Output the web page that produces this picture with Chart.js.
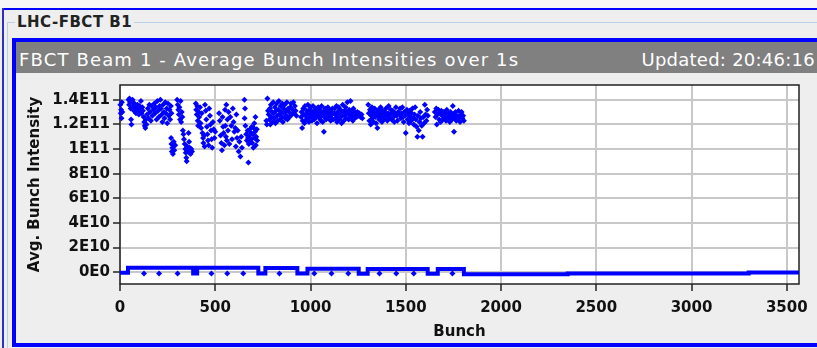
<!DOCTYPE html>
<html>
<head>
<meta charset="utf-8">
<script src="https://cdn.jsdelivr.net/npm/chart.js@4.4.0/dist/chart.umd.min.js"></script>
<style>
html, body { margin: 0; overflow: hidden; background: #eeeeee; }
body { font-family: "DejaVu Sans", sans-serif; }
#page { position: relative; width: 817px; height: 348px; background: #eeeeee; overflow: hidden; }
#topStrip { position: absolute; left: 0; top: 0; right: 0; height: 8px; background: #f7f7f7; }
#outerTop { position: absolute; left: 3px; top: 8px; right: 0; height: 2px; background: #0000ff; }
#outerLeft { position: absolute; left: 2px; top: 8px; width: 2px; bottom: 0; background: #3030c0; }
#group { position: absolute; left: 7px; top: 22px; right: -60px; bottom: -60px; border-left: 1px solid #b8cfe5; border-top: 1px solid #b8cfe5; }
#groupTitle { position: absolute; left: 15px; top: 15px; padding: 0 2px; background: #eeeeee; font-weight: bold; font-size: 15px; line-height: 15px; letter-spacing: 0.5px; color: #222; }
#panel { position: absolute; left: 12px; top: 38px; right: -60px; height: 309px; border-left: 4px solid #0000ff; border-top: 4px solid #0000ff; border-bottom: 4px solid #0000ff; box-sizing: border-box; background: #eeeeee; }
#header { position: absolute; left: 0; top: 0; width: 801px; height: 31px; background: #808080; color: #fff; font-size: 18px; line-height: 31px; }
#hLeft { position: absolute; left: 3px; top: 2px; letter-spacing: 1.15px; white-space: nowrap; }
#hRight { position: absolute; right: 2px; top: 2px; letter-spacing: 0.25px; white-space: nowrap; }
#chart { position: absolute; left: 0; top: 31px; }
#rightGap { position: absolute; left: 790px; top: 10px; width: 27px; height: 12px; background: #eeeeee; }
#rightGap2 { position: absolute; left: 790px; top: 23px; width: 27px; height: 15px; background: #eeeeee; }
</style>
</head>
<body>
<div id="page">
<div id="topStrip"></div>
<div id="outerTop"></div>
<div id="outerLeft"></div>
<div id="group"></div>
<div id="groupTitle">LHC-FBCT B1</div>
<div id="rightGap"></div>
<div id="rightGap2"></div>
<div id="panel">
  <div id="header"><span id="hLeft">FBCT Beam 1 - Average Bunch Intensities over 1s</span><span id="hRight">Updated: 20:46:16</span></div>
  <canvas id="chart" width="801" height="270"></canvas>
</div>
</div>
<script>
// axis ticks
const xTicks = [0, 500, 1000, 1500, 2000, 2500, 3000, 3500];
const yTicks = [0, 2e10, 4e10, 6e10, 8e10, 1e11, 1.2e11, 1.4e11];
const yTickLabels = ['0E0', '2E10', '4E10', '6E10', '8E10', '1E11', '1.2E11', '1.4E11'];

// filled bunches: [bunch, intensity in 1E10]
const trainA = [[2,13.6],[4,12.9],[6,13.2],[8,12.5],[10,13.8],[12,13.0],[45,14.0],[48,13.6],[50,14.1],[53,13.8],[56,13.3],[58,12.4],[60,12.0],[62,13.9],[66,14.0],[70,13.5],[73,13.1],[76,13.7],[80,13.4],[84,12.9],[88,13.3],[92,13.6],[95,13.0],[99,12.8],[103,13.5],[106,13.2],[110,13.9],[113,12.9],[117,13.4],[120,13.1],[124,12.6],[127,12.2],[130,11.9],[133,11.7],[136,12.4],[139,12.0],[142,12.8],[146,13.3],[150,12.5],[154,13.6],[158,13.0],[162,12.3],[166,13.5],[170,12.7]];
const trainB = [[176,13.2],[180,13.7],[184,12.9],[188,13.4],[192,12.4],[196,13.9],[200,13.1],[204,12.6],[208,13.5],[212,14.0],[215,13.3],[219,12.8],[222,12.2],[226,13.6],[230,13.0],[234,12.5],[238,13.8],[241,12.9],[245,13.3],[248,12.1],[252,13.7],[256,12.7],[260,13.2],[263,12.4],[267,13.5],[270,12.9],[300,14.0],[303,13.6],[306,13.2],[309,12.8],[312,13.4],[315,12.4],[318,13.9],[321,12.2],[324,13.0],[327,12.6]];
const trainC = [[268,10.9],[270,10.4],[272,9.8],[275,10.1],[278,9.6],[282,10.6],[285,9.9],[290,10.3],[330,11.5],[333,11.2],[336,10.8],[340,10.4],[343,10.0],[345,9.7],[348,9.3],[350,9.0],[353,10.2],[356,9.8],[360,11.3],[363,10.6],[366,10.1],[370,9.6],[374,10.0],[378,9.8]];
const trainD = [[398,13.7],[400,13.2],[403,12.8],[405,13.5],[408,12.3],[410,11.9],[413,13.0],[416,12.6],[420,13.4],[423,12.1],[426,11.7],[429,12.9],[433,11.3],[436,10.9],[438,10.5],[441,11.1],[444,10.2],[446,13.6],[450,13.1],[453,12.4],[456,11.8],[459,11.2],[462,10.7],[465,10.3],[468,13.3],[472,12.7],[475,12.0],[478,11.5],[481,10.8],[484,10.1],[488,12.2],[492,11.6],[496,10.9],[500,11.4]];
const trainE = [[520,12.9],[524,12.3],[528,11.1],[532,10.5],[535,9.9],[538,12.6],[541,11.8],[544,11.3],[548,10.3],[551,13.2],[553,11.9],[556,11.0],[558,13.6],[561,10.7],[564,12.4],[567,11.5],[570,13.0],[574,10.4],[579,12.6],[584,11.9],[588,10.8],[592,13.3],[596,12.2],[600,11.4],[605,11.7],[608,10.2],[611,12.8],[614,10.9],[618,11.5],[623,9.8],[627,10.6],[632,9.4],[636,11.0],[640,10.1]];
const trainF = [[653,14.0],[656,13.3],[654,12.5],[658,11.9],[662,11.2],[666,10.7],[670,11.5],[672,10.9],[674,8.9],[676,10.4],[679,11.1],[682,11.6],[684,10.6],[687,11.3],[690,10.8],[692,11.8],[694,10.5],[697,11.2],[700,10.1],[702,11.7],[705,12.1],[707,10.9],[709,11.4],[711,12.6],[713,10.3],[715,11.0],[718,11.6],[720,10.7]];
const trainG = [[768,12.3],[771,12.0],[774,14.1],[777,13.1],[780,12.8],[784,12.4],[787,13.3],[789,12.0],[792,13.6],[795,12.6],[798,13.0],[801,12.2],[804,13.8],[807,12.9],[810,12.5],[813,13.4],[816,12.1],[819,13.1],[822,13.7],[825,12.7],[828,12.3],[831,13.2],[834,13.9],[837,12.8],[840,12.4],[843,13.5],[846,13.0],[849,12.6],[852,13.7],[855,12.2],[858,13.3],[861,12.9],[864,13.6],[867,12.5],[870,13.1],[873,12.7],[876,13.8],[879,12.4],[882,13.3],[886,13.0],[890,12.6],[894,13.4],[898,13.7],[902,12.8],[906,13.2],[910,13.8],[914,12.9],[918,13.5],[922,13.1],[926,12.7]];
const trainH = [[950,12.6],[953,13.0],[956,11.7],[959,12.3],[962,13.3],[965,12.8],[968,12.1],[971,13.5],[974,12.7],[977,12.4],[980,13.1],[983,12.9],[986,13.6],[989,12.5],[992,12.2],[995,13.2],[998,12.8],[1001,13.4],[1004,12.6],[1007,12.3],[1010,13.0],[1013,13.5],[1016,12.7],[1019,12.4],[1022,13.1],[1025,12.9],[1028,13.3],[1031,12.6],[1034,12.1],[1037,13.0],[1040,13.4],[1043,12.8],[1046,12.5],[1049,13.2],[1052,12.9],[1055,12.3],[1058,13.5],[1061,12.7],[1064,12.2],[1067,13.0],[1070,11.4],[1073,12.6],[1076,13.3],[1079,12.8],[1082,12.4],[1085,13.1],[1088,12.7],[1091,13.4],[1094,12.5],[1097,12.9],[1100,13.2],[1103,12.6],[1106,12.3],[1109,13.0],[1112,12.8],[1115,13.3],[1118,12.4]];
const trainI = [[1124,12.9],[1127,13.3],[1130,12.5],[1133,12.8],[1136,13.5],[1139,12.2],[1142,13.0],[1145,12.7],[1148,13.4],[1151,12.4],[1154,12.9],[1157,13.2],[1160,12.6],[1163,12.1],[1166,13.0],[1169,13.6],[1172,12.8],[1175,12.3],[1178,13.1],[1181,12.7],[1184,13.4],[1187,12.5],[1190,13.0],[1193,13.8],[1196,12.9],[1200,12.4],[1203,13.2],[1206,12.7],[1210,13.9],[1213,13.1],[1216,12.6],[1219,12.9],[1222,12.3],[1225,13.3],[1228,12.8],[1231,12.5],[1235,13.0],[1238,12.8],[1242,12.6],[1246,13.0],[1250,12.7],[1256,12.9],[1262,12.6],[1268,12.8],[1272,12.5]];
const trainJ = [[1303,13.6],[1306,12.9],[1309,12.3],[1312,13.2],[1316,12.0],[1319,12.7],[1322,13.4],[1325,12.5],[1328,13.0],[1331,12.2],[1334,12.8],[1337,13.3],[1340,12.6],[1344,12.1],[1347,13.0],[1351,11.7],[1354,12.7],[1357,13.2],[1360,12.4],[1364,12.9],[1368,13.4],[1371,12.6],[1375,12.2],[1378,13.1],[1382,12.8],[1385,12.4],[1389,13.0],[1392,12.6],[1396,13.3],[1400,12.7],[1403,12.3],[1407,12.9],[1410,13.5],[1414,12.5],[1418,12.8],[1421,13.2],[1425,12.4],[1428,12.9],[1432,13.1],[1436,12.6],[1440,12.2],[1444,12.9],[1448,13.4],[1452,12.7],[1456,12.3],[1460,13.0]];
const trainK = [[1466,12.8],[1470,13.3],[1474,12.5],[1478,12.9],[1482,13.4],[1485,12.6],[1489,12.2],[1492,13.0],[1496,12.7],[1500,11.3],[1503,12.9],[1506,13.2],[1510,12.4],[1513,12.8],[1517,12.1],[1520,13.1],[1524,12.6],[1528,12.3],[1531,12.9],[1535,13.3],[1538,12.5],[1542,12.0],[1546,12.8],[1549,13.4],[1553,12.4],[1557,11.8],[1561,11.0],[1564,12.7],[1568,11.5],[1572,12.2],[1576,13.0],[1580,12.5],[1584,11.9],[1588,11.0],[1592,12.6],[1596,12.1],[1600,13.6],[1604,12.8],[1608,12.3],[1612,13.2],[1616,12.7]];
const trainL = [[1652,13.0],[1656,12.6],[1660,13.3],[1663,12.0],[1667,12.8],[1671,13.2],[1675,12.4],[1679,12.9],[1683,12.2],[1687,13.1],[1691,12.7],[1695,12.4],[1699,13.0],[1703,12.6],[1707,12.9],[1711,12.3],[1715,13.2],[1719,12.7],[1723,12.5],[1727,12.9],[1731,12.2],[1735,13.0],[1739,12.6],[1743,12.4],[1747,13.5],[1750,12.8],[1753,11.4],[1757,12.5],[1761,13.0],[1765,12.3],[1769,12.7],[1773,12.4],[1777,13.1],[1781,12.6],[1785,12.2],[1789,12.8],[1793,13.0],[1797,12.5],[1801,12.7],[1805,12.3]];

// empty-slot baseline: level (1E10) holding from each start bunch to the next
const baseStart = [0, 42, 384, 405, 726, 763, 931, 984, 1253, 1300, 1615, 1668, 1805, 2350, 3300, 3564];
const baseLevel = [-0.05, 0.35, -0.1, 0.35, -0.1, 0.33, -0.1, 0.28, -0.12, 0.25, -0.12, 0.25, -0.16, -0.1, -0.03, -0.03];
// single low slots dipping under the baseline
const dipBunch = [126, 205, 302, 480, 563, 647, 837, 1020, 1110, 1198, 1362, 1450, 1542, 1745];
const dipLevel = -0.1;

const E10 = 1e10;
const trains = [trainA, trainB, trainC, trainD, trainE, trainF, trainG, trainH, trainI, trainJ, trainK, trainL];
const filled = trains.flat().map(p => ({ x: p[0], y: p[1] * E10 }));
const baseline = baseStart.map((b, i) => ({ x: b, y: baseLevel[i] * E10 }));
const dips = dipBunch.map(b => ({ x: b, y: dipLevel * E10 }));

const BLUE = '#0000ff';
const tickFont = { family: 'DejaVu Sans', size: 15, weight: 'bold' };

// white plot area with a dark frame round it
const framePlugin = {
    id: 'frame',
    beforeDraw(chart) {
        const { ctx, chartArea: a } = chart;
        ctx.save();
        ctx.fillStyle = '#ffffff';
        ctx.fillRect(a.left, a.top, a.right - a.left, a.bottom - a.top);
        ctx.restore();
    },
    beforeDatasetsDraw(chart) {
        const { ctx, chartArea: a } = chart;
        ctx.save();
        ctx.strokeStyle = '#222';
        ctx.lineWidth = 1.5;
        ctx.strokeRect(a.left, a.top, a.right - a.left, a.bottom - a.top);
        ctx.restore();
    }
};

new Chart(document.getElementById('chart').getContext('2d'), {
    type: 'scatter',
    data: {
        datasets: [
            { type: 'line', data: baseline, stepped: 'before', borderColor: BLUE, borderWidth: 4, pointRadius: 0, fill: false },
            { data: dips, pointStyle: 'rectRot', pointRadius: 3, backgroundColor: BLUE, borderWidth: 0 },
            { data: filled, pointStyle: 'rectRot', pointRadius: 3, backgroundColor: BLUE, borderWidth: 0, clip: false }
        ]
    },
    options: {
        responsive: false,
        animation: false,
        devicePixelRatio: 1,
        layout: { padding: { left: 0, right: 18, top: 10, bottom: 0 } },
        plugins: { legend: { display: false }, tooltip: { enabled: false } },
        scales: {
            x: {
                type: 'linear', min: 0, max: 3564,
                afterBuildTicks: s => { s.ticks = xTicks.map(v => ({ value: v })); },
                afterFit: s => { s.height = 59; },
                ticks: { font: tickFont, color: '#111', padding: 8, maxRotation: 0, callback: v => String(v) },
                grid: { color: '#c8c8c8', lineWidth: 2, tickColor: '#222', tickWidth: 1.5, tickLength: 7 },
                border: { display: false },
                title: { display: true, text: 'Bunch', font: tickFont, color: '#111', padding: { top: 0, bottom: 2 } }
            },
            y: {
                type: 'linear', min: -0.96e10, max: 1.52e11,
                afterBuildTicks: s => { s.ticks = yTicks.map(v => ({ value: v })); },
                afterFit: s => { s.width = 104; },
                ticks: { font: tickFont, color: '#111', padding: 3, callback: (v, i) => yTickLabels[i] },
                grid: { color: '#c8c8c8', lineWidth: 2, tickColor: '#222', tickWidth: 1.5, tickLength: 7 },
                border: { display: false },
                title: { display: true, text: 'Avg. Bunch Intensity', font: tickFont, color: '#111', padding: { top: 10, bottom: 0 } }
            }
        }
    },
    plugins: [framePlugin]
});
</script>
</body>
</html>
